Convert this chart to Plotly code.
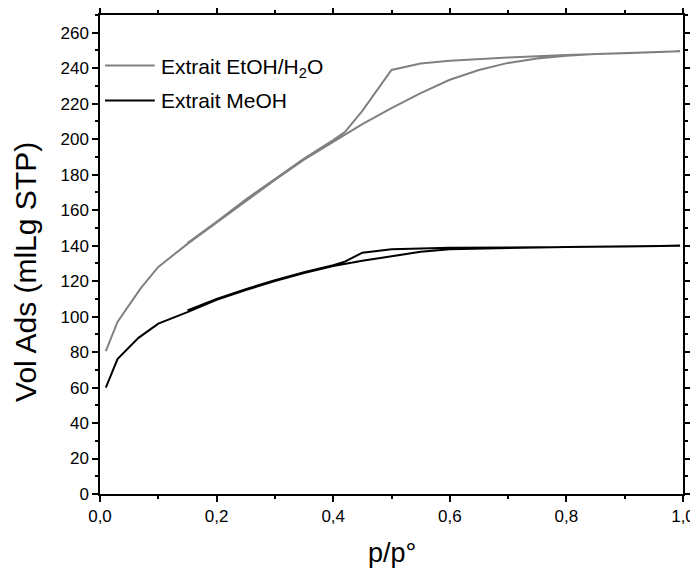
import plotly.graph_objects as go

# EtOH/H2O extract: adsorption then desorption branch
etoh_x = [0.01, 0.03, 0.07, 0.1, 0.15, 0.2, 0.25, 0.3, 0.35, 0.4, 0.45, 0.5, 0.55, 0.6, 0.65,
          0.7, 0.75, 0.8, 0.85, 0.9, 0.95, 0.995,
          0.9, 0.8, 0.7, 0.6, 0.55, 0.5, 0.45, 0.42, 0.4, 0.35, 0.3, 0.25, 0.2, 0.15]
etoh_y = [80.5, 97, 116, 128, 141, 153, 165.5, 177, 188.5, 198.5, 208.5, 217.5, 226, 233.5, 239,
          243, 245.5, 247, 248, 248.5, 249, 249.5,
          248.5, 247.5, 246, 244.2, 242.7, 239, 216, 204, 199.5, 189, 177.5, 166, 153.5, 141.5]

# MeOH extract: adsorption then desorption branch
meoh_x = [0.01, 0.03, 0.066, 0.1, 0.15, 0.2, 0.25, 0.3, 0.35, 0.4, 0.45, 0.5, 0.55, 0.6, 0.7,
          0.8, 0.9, 0.995,
          0.9, 0.8, 0.7, 0.6, 0.5, 0.45, 0.42, 0.4, 0.35, 0.3, 0.25, 0.2, 0.15]
meoh_y = [60, 76, 88, 96, 102.5, 109.5, 115, 120, 124.5, 128.5, 131.5, 134, 136.5, 138, 138.8,
          139.2, 139.5, 140,
          139.5, 139.2, 139, 138.8, 138, 136, 131, 129, 125, 120.5, 115.5, 110, 103.5]

series_names = ["Extrait EtOH/H<sub>2</sub>O", "Extrait MeOH"]
series_colors = ["#808080", "#000000"]
x_title = "p/p°"
y_title = "Vol Ads (mlLg STP)"

FONT = "Liberation Sans, Arial, sans-serif"

fig = go.Figure()
fig.add_trace(go.Scatter(x=etoh_x, y=etoh_y, mode="lines", name=series_names[0],
                         line=dict(color=series_colors[0], width=2), showlegend=False))
fig.add_trace(go.Scatter(x=meoh_x, y=meoh_y, mode="lines", name=series_names[1],
                         line=dict(color=series_colors[1], width=2), showlegend=False))

# manual legend
leg_y = [0.8946, 0.8215]
leg_shift = [-3, 0]
for name, col, yy, ys in zip(series_names, series_colors, leg_y, leg_shift):
    fig.add_shape(type="line", xref="paper", yref="paper", x0=0.0086, x1=0.094, y0=yy, y1=yy,
                  line=dict(color=col, width=2))
    fig.add_annotation(xref="paper", yref="paper", x=0.101, y=yy, text=name, showarrow=False,
                       xanchor="left", yanchor="middle", yshift=ys,
                       font=dict(family=FONT, size=21, color="black"))

# axis titles
fig.add_annotation(xref="paper", yref="paper", x=0.5, y=-0.123, text=x_title, showarrow=False,
                   xanchor="center", yanchor="middle", font=dict(family=FONT, size=27, color="black"))
fig.add_annotation(xref="paper", yref="paper", x=-0.127, y=0.4635, text=y_title, showarrow=False,
                   textangle=-90, xanchor="center", yanchor="middle",
                   font=dict(family=FONT, size=30, color="black"))

axis_common = dict(showline=True, linecolor="black", linewidth=1.5, mirror="allticks",
                   ticks="outside", tickcolor="black", tickwidth=1.5, ticklen=6,
                   showgrid=False, zeroline=False, automargin=False,
                   tickfont=dict(family=FONT, size=17, color="black"))

fig.update_xaxes(range=[0, 1], dtick=0.2, tick0=0, tickformat=".1f",
                 minor=dict(dtick=0.1, ticklen=3, tickcolor="black", tickwidth=1.5, ticks="outside"),
                 **axis_common)
fig.update_yaxes(range=[0, 270], dtick=20, tick0=0,
                 minor=dict(dtick=10, ticklen=3, tickcolor="black", tickwidth=1.5, ticks="outside"),
                 **axis_common)

# page body has an 8px margin, so the figure is sized to fit the 698x576 window
fig.update_layout(width=690, height=560, margin=dict(l=92, r=15, t=7, b=74),
                  plot_bgcolor="white", paper_bgcolor="white", separators=",.",
                  font=dict(family=FONT))

fig.write_html("out.html")
